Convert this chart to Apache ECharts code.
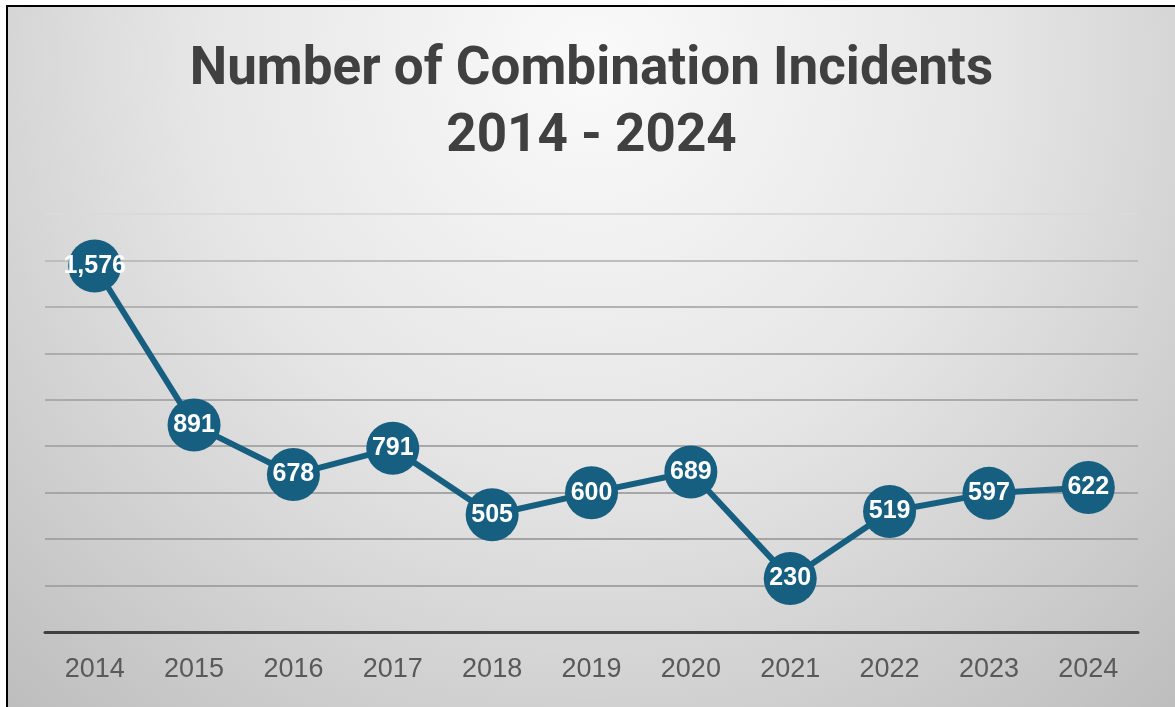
<!DOCTYPE html>
<html>
<head>
<meta charset="utf-8">
<script src="https://cdn.jsdelivr.net/npm/echarts@6/dist/echarts.min.js"></script>
<style>
  html, body { margin: 0; padding: 0; background: #fff; }
  .frame {
    position: absolute; left: 6px; top: 5px;
    width: 1169px; height: 702px;
    border-left: 2px solid #000; border-top: 2px solid #000;
  }
  #chart { width: 1167px; height: 700px; }
</style>
</head>
<body>
<div class="frame"><div id="chart"></div></div>
<script>
  // chart data
  const years = ['2014', '2015', '2016', '2017', '2018', '2019', '2020', '2021', '2022', '2023', '2024'];
  const incidents = [1576, 891, 678, 791, 505, 600, 689, 230, 519, 597, 622];
  const titleLines = ['Number of Combination Incidents', '2014 - 2024'];

  const chart = echarts.init(document.getElementById('chart'));

  const titleStyle = {
    fontFamily: 'Roboto, sans-serif',
    fontWeight: 'bold',
    fontSize: 53,
    lineHeight: 53,
    color: '#404040',
  };

  const option = {
    backgroundColor: {
      type: 'radial',
      x: 0.5, y: 0.08, r: 1.25,
      colorStops: [
        { offset: 0, color: '#fafafa' },
        { offset: 0.45, color: '#e6e6e6' },
        { offset: 1, color: '#bdbdbd' },
      ],
    },
    title: [
      { text: titleLines[0], left: 'center', top: 32, textStyle: titleStyle },
      { text: titleLines[1], left: 'center', top: 99, textStyle: titleStyle },
    ],
    grid: { left: 37, right: 37, top: 207, bottom: 75, containLabel: false },
    xAxis: {
      type: 'category',
      data: years,
      boundaryGap: true,
      axisLine: { lineStyle: { color: '#404040', width: 3 } },
      axisTick: { show: false },
      axisLabel: {
        color: '#595959',
        fontFamily: "'Liberation Sans', Arial, sans-serif",
        fontSize: 27,
        margin: 24,
      },
    },
    yAxis: {
      type: 'value',
      min: 0,
      max: 1800,
      interval: 200,
      axisLabel: { show: false },
      axisLine: { show: false },
      axisTick: { show: false },
      splitLine: {
        lineStyle: {
          width: 2,
          color: ['#a0a0a0', '#a4a4a4', '#a4a4a4', '#a6a6a6', '#a8a8a8', '#aaaaaa', '#adadad', '#b2b2b2', '#bdbdbd', '#dadada'],
        },
      },
    },
    series: [
      {
        type: 'line',
        data: incidents,
        symbol: 'circle',
        symbolSize: 53,
        lineStyle: { color: '#175f80', width: 6 },
        itemStyle: { color: '#175f80' },
        label: {
          show: true,
          position: 'inside',
          color: '#fff',
          fontFamily: "'Liberation Sans', Arial, sans-serif",
          fontWeight: 'bold',
          fontSize: 25,
          formatter: (p) => p.value.toLocaleString('en-US'),
        },
        emphasis: { disabled: true },
        animation: false,
      },
    ],
  };

  chart.setOption(option);
  window.addEventListener('resize', chart.resize);
</script>
</body>
</html>
